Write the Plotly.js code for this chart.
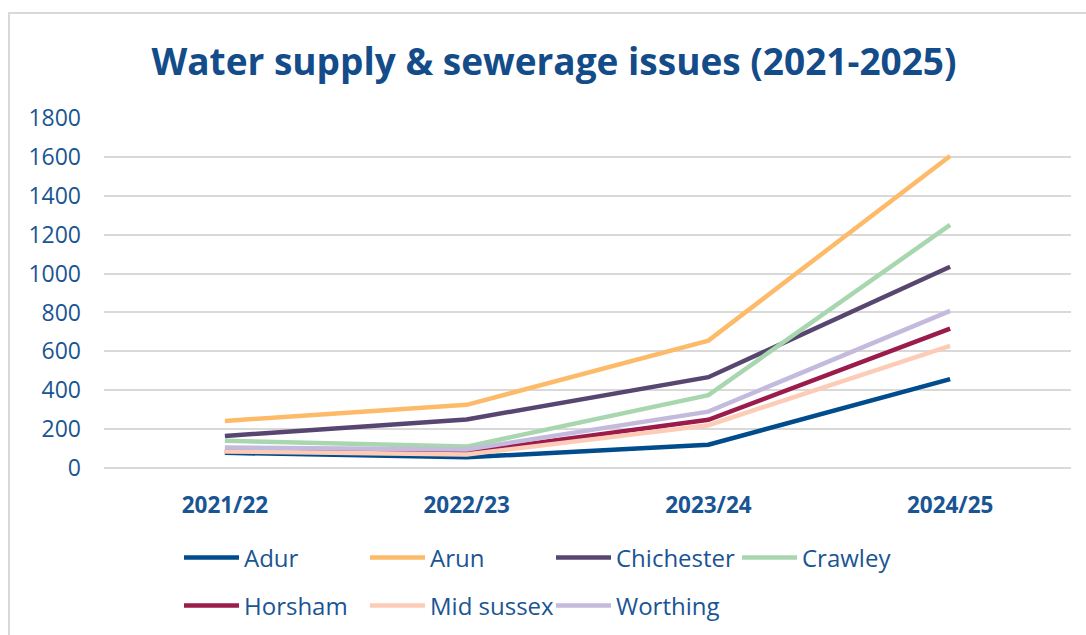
<!DOCTYPE html>
<html>
<head>
<meta charset="utf-8">
<script src="https://cdn.plot.ly/plotly-3.0.1.min.js"></script>
<style>html,body{margin:0;padding:0;background:#fff;}#chart{width:1086px;height:635px;}</style>
</head>
<body>
<div id="chart"></div>
<script>
// ---- data ----
const years = ["2021/22", "2022/23", "2023/24", "2024/25"];
const adur = [78, 55, 120, 457];
const arun = [242, 325, 655, 1605];
const chichester = [165, 250, 467, 1035];
const crawley = [140, 110, 375, 1250];
const horsham = [88, 80, 248, 717];
const midSussex = [85, 70, 220, 628];
const worthing = [105, 95, 290, 808];
const seriesNames = ["Adur", "Arun", "Chichester", "Crawley", "Horsham", "Mid sussex", "Worthing"];
const yTicks = [0, 200, 400, 600, 800, 1000, 1200, 1400, 1600, 1800];

// ---- styling ----
const seriesValues = [adur, arun, chichester, crawley, horsham, midSussex, worthing];
const colors = ["#004C8C", "#FDBB6A", "#574670", "#A8D6AF", "#9B1B4B", "#FCCCB6", "#C3BADE"];
const legendOf = ["legend", "legend", "legend", "legend", "legend2", "legend2", "legend2"];
const textColor = "#1A5593";

const traces = seriesNames.map((name, i) => ({
  type: "scatter",
  mode: "lines",
  name: name,
  x: years,
  y: seriesValues[i],
  line: {color: colors[i], width: 4.5},
  legend: legendOf[i],
  hoverinfo: "skip"
}));

const legendBase = {
  orientation: "h",
  xref: "container", yref: "container",
  x: 179 / 1086, xanchor: "left",
  yanchor: "middle",
  itemwidth: 55,
  entrywidth: 116,
  entrywidthmode: "pixels",
  font: {family: "Open Sans", size: 24, color: textColor},
  bgcolor: "rgba(0,0,0,0)",
  traceorder: "normal"
};

const layout = {
  width: 1086, height: 635,
  margin: {l: 104, r: 15, t: 118, b: 167},
  paper_bgcolor: "#ffffff",
  plot_bgcolor: "#ffffff",
  showlegend: true,
  title: {
    text: "Water supply & sewerage issues (2021-2025)",
    font: {family: "Open Sans", size: 37, weight: "bold", color: "#134C89"},
    xref: "container", yref: "container",
    x: 554 / 1086, xanchor: "center",
    y: 1 - 62 / 635, yanchor: "middle"
  },
  xaxis: {
    type: "category",
    range: [-0.5, 3.5],
    showgrid: false, zeroline: false, showline: false,
    ticks: "",
    tickfont: {family: "Open Sans", size: 22.5, weight: "bold", color: textColor},
    ticklabelstandoff: 21,
    fixedrange: true
  },
  yaxis: {
    range: [0, 1800],
    tickvals: yTicks,
    ticktext: yTicks.map(String),
    showgrid: true, gridcolor: "#D9D9D9", gridwidth: 2,
    zeroline: true, zerolinecolor: "#D9D9D9", zerolinewidth: 2,
    showline: false, ticks: "",
    tickfont: {family: "Open Sans", size: 23, color: textColor},
    ticklabelstandoff: 22,
    fixedrange: true
  },
  legend: Object.assign({}, legendBase, {y: 1 - 558 / 635}),
  legend2: Object.assign({}, legendBase, {y: 1 - 606 / 635}),
  shapes: [{
    type: "rect", xref: "paper", yref: "paper",
    x0: (9 - 104) / 967, x1: (1095 - 104) / 967,
    y0: (468 - 645) / 350, y1: (468 - 13) / 350,
    line: {color: "#D9D9D9", width: 2}, fillcolor: "rgba(0,0,0,0)", layer: "below"
  }]
};

Plotly.newPlot("chart", traces, layout, {staticPlot: true, displayModeBar: false});
</script>
</body>
</html>
